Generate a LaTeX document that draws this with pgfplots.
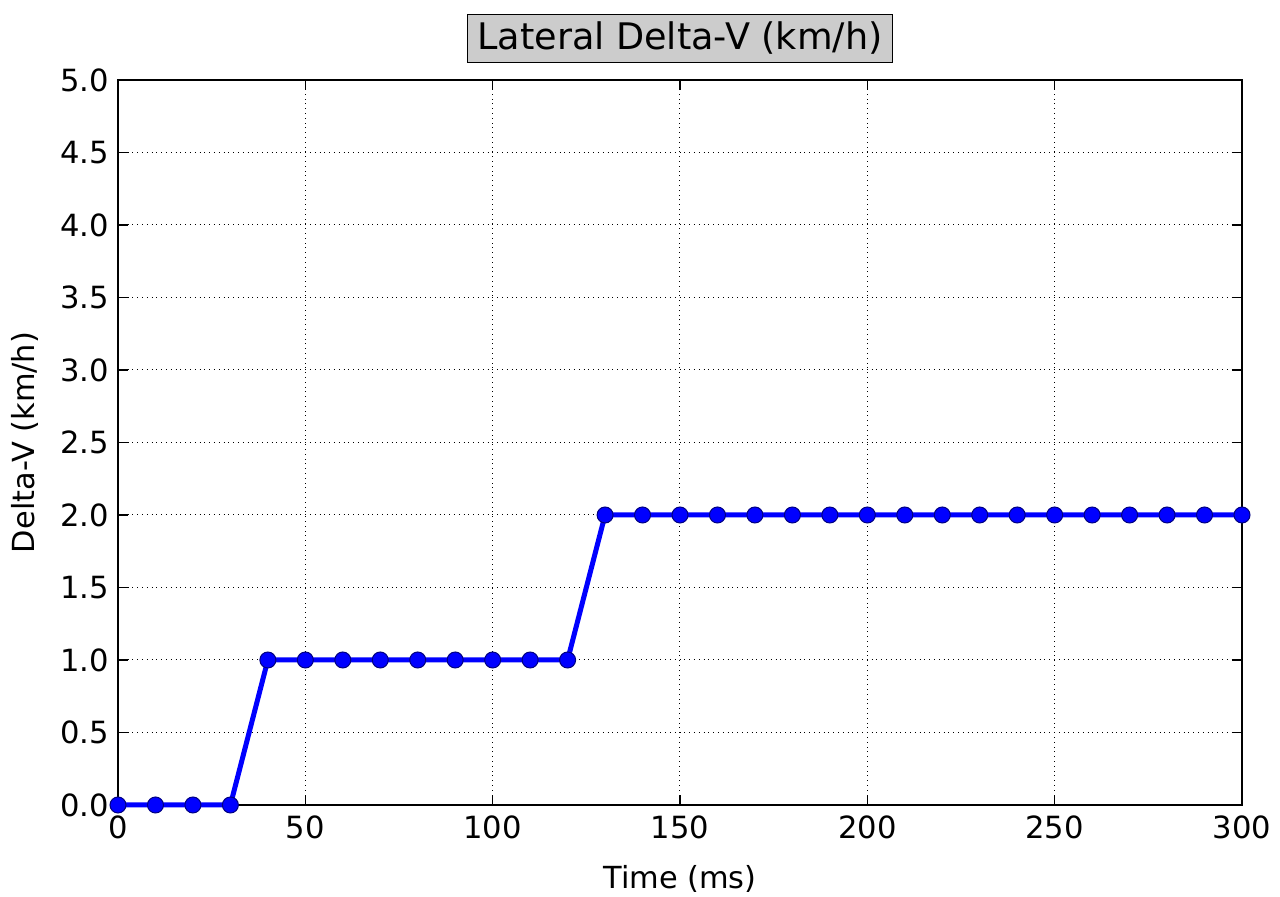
\documentclass[border=0pt]{standalone}
\usepackage{fontspec}
\setmainfont{DejaVu Sans}
\usepackage{pgfplots}
\pgfplotsset{compat=1.18}
\definecolor{titlegray}{HTML}{CCCCCC}
\begin{document}
\begin{tikzpicture}
\path[use as bounding box] (-59pt,-46pt) rectangle (581pt,402.5pt);
\begin{axis}[
  at={(0,0)}, anchor=south west,
  scale only axis,
  width=562pt, height=362.5pt,
  xmin=0, xmax=300, ymin=0, ymax=5,
  xtick={0,50,...,300},
  ytick={0,0.5,...,5},
  yticklabel style={xshift=-1pt, /pgf/number format/fixed, /pgf/number format/fixed zerofill, /pgf/number format/precision=1},
  /pgf/number format/assume math mode=true,
  tick label style={font=\fontsize{15.3}{17}\selectfont},
  xticklabel style={yshift=-2pt},
  tick align=inside,
  major tick length=5pt,
  tick style={black, line width=0.6pt},
  axis line style={black, line width=0.8pt},
  grid=major,
  major grid style={black, dotted, line width=0.5pt},
  xlabel={Time (ms)},
  ylabel={Delta-V (km/h)},
  label style={font=\fontsize{15.2}{17}\selectfont},
  xlabel style={yshift=-6pt},
  ylabel style={yshift=4pt},
  title={Lateral Delta-V (km/h)},
  title style={font=\fontsize{18.3}{20}\selectfont, draw=black, line width=0.6pt, fill=titlegray,
    at={(0.5,1)}, anchor=south, yshift=2.5pt, inner xsep=5pt, inner ysep=0pt,
    minimum height=24pt},
  clip=false,
]
\addplot[blue, line width=2.5pt, mark=*, mark size=4pt,
  mark options={fill=blue, draw=blue!50!black, line width=0.5pt}] coordinates {
(0,0) (10,0) (20,0) (30,0)
(40,1) (50,1) (60,1) (70,1) (80,1) (90,1) (100,1) (110,1) (120,1)
(130,2) (140,2) (150,2) (160,2) (170,2) (180,2) (190,2) (200,2) (210,2) (220,2)
(230,2) (240,2) (250,2) (260,2) (270,2) (280,2) (290,2) (300,2)
};
\end{axis}
\end{tikzpicture}
\end{document}
